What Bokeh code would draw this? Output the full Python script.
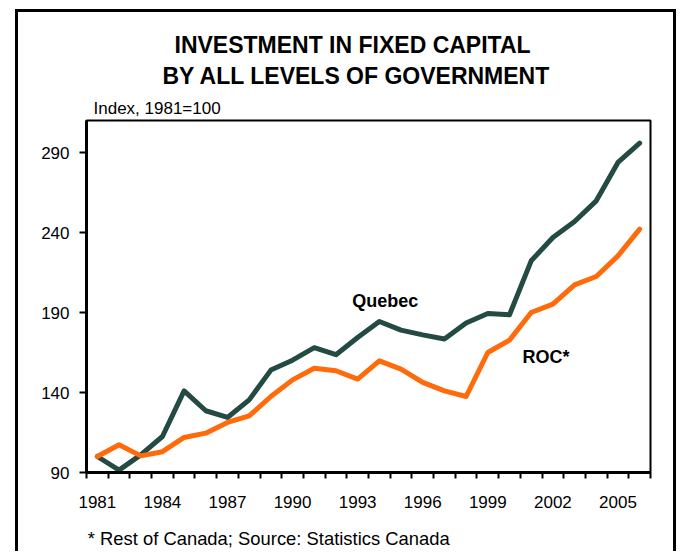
from bokeh.plotting import figure
from bokeh.models import FixedTicker, Label, Title, Range1d, LinearAxis
from bokeh.embed import file_html
from bokeh.resources import INLINE

# ---- data ----
years = list(range(1981, 2007))
quebec = [100, 91.5, 101, 112.5, 141, 128.6, 124.4, 135.4, 154, 160.2, 168, 163.6, 174.4,
          184.4, 179, 176, 173.4, 183.4, 189.4, 188.6, 222.3, 236.9, 246.9, 259.8, 283.8, 295.9]
roc = [100, 107.3, 100.4, 103, 111.9, 114.6, 121.3, 125.4, 137.5, 147.9, 155.2, 153.6, 148.4,
       159.8, 154.6, 146.3, 141, 137.5, 165, 172.7, 190, 195.2, 207.3, 212.5, 225.4, 242.1]
x_tick_labels = ["1981", "1984", "1987", "1990", "1993", "1996", "1999", "2002", "2005"]
y_ticks = [90, 140, 190, 240, 290]

title1 = "INVESTMENT IN FIXED CAPITAL"
title2 = "BY ALL LEVELS OF GOVERNMENT"
y_caption = "Index, 1981=100"
footnote = "* Rest of Canada; Source: Statistics Canada"

FONT = "Liberation Sans"
QC_COLOR = "#234a43"
ROC_COLOR = "#ff6a0a"

# figure placed at page (18, 12) inside a 3px CSS border (left/top/right)
OX, OY = 18, 12
W, H = 661, 542
FL, FR, FT, FB = 86 - OX, 650 - OX, 120 - OY, 472 - OY   # frame edges in figure px
X0, X1 = years[0] - 0.5, years[-1] + 0.5
Y0, Y1 = 90, 310

p = figure(width=W, height=H, output_backend="svg", toolbar_location=None,
           x_range=Range1d(X0, X1), y_range=Range1d(Y0, Y1),
           min_border_left=FL, min_border_right=W - FR,
           min_border_top=FT, min_border_bottom=H - FB)
p.styles = {"margin-left": "15px", "margin-top": "9px",
            "border-left": "3px solid black", "border-top": "3px solid black",
            "border-right": "3px solid black"}

p.xgrid.visible = False
p.ygrid.visible = False
p.outline_line_color = "black"
p.outline_line_width = 2
p.background_fill_color = "white"
p.border_fill_color = "white"

p.line(years, quebec, line_color=QC_COLOR, line_width=5, line_join="round", line_cap="round")
p.line(years, roc, line_color=ROC_COLOR, line_width=5, line_join="round", line_cap="round")

xa = p.xaxis[0]
xa.ticker = FixedTicker(ticks=[int(t) for t in x_tick_labels],
                        minor_ticks=[X0 + i for i in range(len(years) + 1)])
xa.major_label_overrides = {int(t): t for t in x_tick_labels}
xa.major_tick_out = 0
xa.major_tick_in = 0
xa.minor_tick_out = 6
xa.minor_tick_in = 0
xa.minor_tick_line_width = 2
xa.axis_line_width = 3
xa.major_label_standoff = 17
xa.major_label_text_font = FONT
xa.major_label_text_font_size = "17px"
xa.major_label_text_color = "black"

ya = p.yaxis[0]
ya.ticker = FixedTicker(ticks=y_ticks, minor_ticks=[])
ya.major_tick_out = 7
ya.major_tick_in = 0
ya.major_tick_line_width = 2
ya.axis_line_width = 3
ya.major_label_standoff = 10
ya.major_label_text_font = FONT
ya.major_label_text_font_size = "17px"
ya.major_label_text_color = "black"

def add_title(txt, side, size, offset, standoff, valign="bottom", bold=False):
    p.add_layout(Title(text=txt, align="left", offset=offset, standoff=standoff,
                       vertical_align=valign,
                       text_font=FONT, text_font_size=size,
                       text_font_style="bold" if bold else "normal", text_color="black"), side)

# above panel: first added sits nearest the frame
add_title(y_caption, "above", "17px", 7, 6)
add_title(title2, "above", "23px", 76, 4.5, valign="top", bold=True)
add_title(title1, "above", "23px", 88, 4.5, bold=True)

# footnote: a bare second axis below the first, one centred label
FOOT_SIZE = 18.4
FOOT_LEFT_PX = 87          # page px where the footnote starts
FOOT_EM = 19.676           # width of the footnote in em (Arial metrics)
foot_center_px = FOOT_LEFT_PX + FOOT_EM * FOOT_SIZE / 2
foot_pos = round(X0 + (foot_center_px - 86) * (X1 - X0) / (650 - 86), 1)
fa = LinearAxis(ticker=FixedTicker(ticks=[foot_pos], minor_ticks=[]),
                major_label_overrides={foot_pos: footnote},
                axis_line_color=None, major_tick_line_color=None, minor_tick_line_color=None,
                major_tick_out=0, major_tick_in=0, minor_tick_out=0, minor_tick_in=0,
                major_label_standoff=17,
                major_label_text_font=FONT, major_label_text_font_size=f"{FOOT_SIZE}px",
                major_label_text_color="black")
p.add_layout(fa, "below")

# series labels (data space)
def add_label(x, y, txt):
    p.add_layout(Label(x=x, y=y, text=txt, text_font=FONT, text_font_size="18px",
                       text_font_style="bold", text_color="black",
                       text_align="left", text_baseline="middle"))

add_label(1992.75, 197, "Quebec")
add_label(2000.6, 162, "ROC*")

open("out.html", "w").write(file_html(p, INLINE))
